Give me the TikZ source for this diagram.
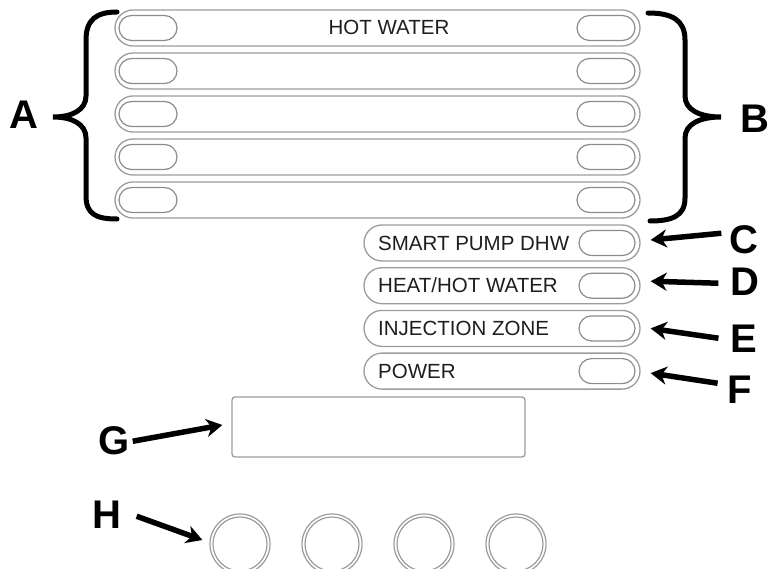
\documentclass[tikz,border=0pt]{standalone}
\usepackage{fontspec}
\setmainfont{Liberation Sans}
\usetikzlibrary{arrows.meta}
\definecolor{ringc}{HTML}{9C9C9C}
\definecolor{pillc}{HTML}{8C8C8C}
\definecolor{txtc}{HTML}{1E1E1E}
\tikzset{
  bar/.style={draw=ringc, line width=1.3pt, rounded corners=18pt, minimum height=36pt, inner sep=0pt},
  pill/.style={draw=pillc, line width=1.2pt, rounded corners=12.5pt, minimum height=25pt, inner sep=0pt},
  lab/.style={text=txtc, inner sep=0pt, font=\fontsize{20.5}{24}\selectfont},
  letter/.style={inner sep=0pt, font=\fontsize{40}{48}\selectfont\bfseries},
  arr/.style={line width=5.5pt, -{Stealth[length=16pt,width=18pt,inset=5pt]}},
  brace/.style={line width=5pt, line cap=round},
  knob/.style={draw=ringc, line width=1.2pt, circle, inner sep=0pt}
}
\begin{document}
\begin{tikzpicture}[x=1pt,y=-1pt]
\useasboundingbox (0,0) rectangle (770,569);
\clip (0,0) rectangle (770,569);
% big bars
\foreach \i in {0,...,4}{
  \node[bar, minimum width=525pt] (b\i) at (377.5,{28+43*\i}) {};
  \node[pill, minimum width=58pt] (bl\i) at (148,{28+43*\i}) {};
  \node[pill, minimum width=58pt] (br\i) at (606,{28+43*\i}) {};
}
\node[lab, anchor=base] (hw) at (389,35) {HOT WATER};
% small bars
\foreach \i in {0,...,3}{
  \node[bar, minimum width=276pt] (s\i) at (502,{243+42.7*\i}) {};
  \node[pill, minimum width=56pt] (sp\i) at (607,{243+42.7*\i}) {};
}
\node[lab, anchor=base west] (t0) at (378,250) {SMART PUMP DHW};
\node[lab, anchor=base west] (t1) at (378,292.7) {HEAT/HOT WATER};
\node[lab, anchor=base west] (t2) at (378,335.4) {INJECTION ZONE};
\node[lab, anchor=base west] (t3) at (378,378.1) {POWER};
% display
\node[draw=ringc, line width=1.3pt, rounded corners=3pt, minimum width=293pt, minimum height=60pt, inner sep=0pt] (disp) at (378.5,427) {};
% knobs
\foreach \i in {0,...,3}{
  \node[knob, minimum size=60pt] (k\i) at ({240+92*\i},544) {};
  \node[knob, minimum size=54pt] (ki\i) at ({240+92*\i},544) {};
}
% letters
\node[letter, anchor=base] (A) at (24,129) {A};
\node[letter, anchor=base] (B) at (755,133) {B};
\node[letter, anchor=base] (C) at (744,253) {C};
\node[letter, anchor=base] (D) at (745,295) {D};
\node[letter, anchor=base] (E) at (744,352) {E};
\node[letter, anchor=base] (F) at (740,403) {F};
\node[letter, anchor=base] (G) at (114,454) {G};
\node[letter, anchor=base] (H) at (107,528) {H};
% braces
\draw[brace] (117,12) .. controls (96,12) and (86,20) .. (86,40) -- (86,96)
  .. controls (86,110) and (72,117) .. (53,117)
  .. controls (72,117) and (86,124) .. (86,138) -- (86,196)
  .. controls (86,214) and (96,219) .. (117,219);
\draw[brace] (648,13) .. controls (672,13) and (685,20) .. (685,40) -- (685,96)
  .. controls (685,110) and (700,117) .. (721,117)
  .. controls (700,117) and (685,124) .. (685,138) -- (685,198)
  .. controls (685,216) and (672,221) .. (650,221);
% arrows
\draw[arr] ([shift={(-8,-6)}]C.west) -- ([shift={(10,-3)}]s0.east);
\draw[arr] ([shift={(-12,2)}]D.west) -- ([shift={(10,-4.5)}]s1.east);
\draw[arr] ([shift={(-12,0)}]E.west) -- ([shift={(10,0)}]s2.east);
\draw[arr] ([shift={(-10,-6)}]F.west) -- ([shift={(10,2)}]s3.east);
\draw[arr] ([shift={(3,1)}]G.east) -- ([shift={(-9,-2)}]disp.west);
\draw[arr] ([shift={(15,2)}]H.east) -- ([shift={(-7,-4)}]k0.west);
\end{tikzpicture}
\end{document}
